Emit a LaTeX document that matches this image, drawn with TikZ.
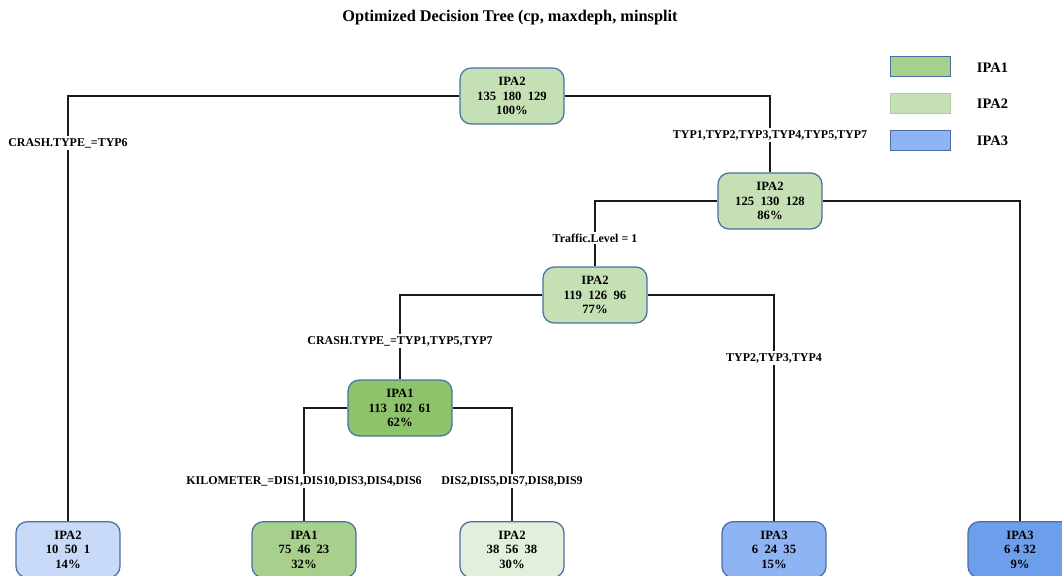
\documentclass[tikz,border=0pt]{standalone}
\usepackage{fontspec}
\setmainfont{Liberation Serif}
\usetikzlibrary{positioning,calc}
\definecolor{tborder}{HTML}{4A6FA5}
\definecolor{tline}{HTML}{1A1A1A}
\definecolor{ipaone}{HTML}{8DC46B}
\definecolor{ipaonel}{HTML}{A8D08D}
\definecolor{ipatwo}{HTML}{C5E0B4}
\definecolor{ipatwop}{HTML}{E2EFDA}
\definecolor{ipatwob}{HTML}{C9DAF8}
\definecolor{ipathree}{HTML}{8EB4F3}
\definecolor{ipathreed}{HTML}{6D9EEB}
\tikzset{
  tnode/.style={draw=tborder,rounded corners=8pt,line width=0.9pt,align=center,
    minimum width=2.6cm,minimum height=1.4cm,font=\fontsize{9}{10.3}\selectfont\bfseries,inner sep=2pt},
  leaf/.style={tnode,minimum width=2.6cm,anchor=north},
  edge/.style={draw=tline,line width=0.9pt},
  cond/.style={fill=white,font=\fontsize{8.5}{10}\selectfont\bfseries,inner sep=1.5pt},
  legbox/.style={minimum width=1.5cm,minimum height=0.5cm,line width=0.7pt},
  leglbl/.style={font=\fontsize{10.3}{12}\selectfont\bfseries,anchor=west},
}
\begin{document}
\begin{tikzpicture}[x=0.025cm,y=-0.025cm]
  \useasboundingbox (0,0) rectangle (1062,575);
  \node[font=\fontsize{11.6}{13}\selectfont\bfseries] (title) at (510,18) {Optimized Decision Tree (cp, maxdeph, minsplit};
  % inner nodes
  \node[tnode,fill=ipatwo] (root) at (512,96) {IPA2\\135~~180~~129\\100\%};
  \node[tnode,fill=ipatwo] (n2) at (770,201) {IPA2\\125~~130~~128\\86\%};
  \node[tnode,fill=ipatwo] (n3) at (595,295) {IPA2\\119~~126~~96\\77\%};
  \node[tnode,fill=ipaone] (n4) at (400,408) {IPA1\\113~~102~~61\\62\%};
  % leaves
  \node[leaf,fill=ipatwob] (l1) at (68,521) {IPA2\\10~~50~~1\\14\%};
  \node[leaf,fill=ipaonel] (l2) at (304,521) {IPA1\\75~~46~~23\\32\%};
  \node[leaf,fill=ipatwop] (l3) at (512,521) {IPA2\\38~~56~~38\\30\%};
  \node[leaf,fill=ipathree] (l4) at (774,521) {IPA3\\6~~24~~35\\15\%};
  \node[leaf,fill=ipathreed] (l5) at (1020,521) {IPA3\\6~4~32\\9\%};
  % splits
  \draw[edge] (root.west) -| (l1.north);
  \draw[edge] (root.east) -| (n2.north);
  \draw[edge] (n2.west) -| (n3.north);
  \draw[edge] (n2.east) -| (l5.north);
  \draw[edge] (n3.west) -| (n4.north);
  \draw[edge] (n3.east) -| (l4.north);
  \draw[edge] (n4.west) -| (l2.north);
  \draw[edge] (n4.east) -| (l3.north);
  \node[cond] (c1) at (l1.north |- 0,143) {CRASH.TYPE\_=TYP6};
  \node[cond] (c2) at (n2.north |- 0,135) {TYP1,TYP2,TYP3,TYP4,TYP5,TYP7};
  \node[cond] (c3) at (n3.north |- 0,238) {Traffic.Level = 1};
  \node[cond] (c4) at (n4.north |- 0,341) {CRASH.TYPE\_=TYP1,TYP5,TYP7};
  \node[cond] (c5) at (l4.north |- 0,358) {TYP2,TYP3,TYP4};
  \node[cond] (c6) at (l2.north |- 0,481) {KILOMETER\_=DIS1,DIS10,DIS3,DIS4,DIS6};
  \node[cond] (c7) at (l3.north |- 0,481) {DIS2,DIS5,DIS7,DIS8,DIS9};
  % legend
  \node[legbox,fill=ipaonel,draw=tborder] (k1) at (920,66) {};
  \node[legbox,fill=ipatwo,draw=ipatwo!90!black] (k2) at (920,103) {};
  \node[legbox,fill=ipathree,draw=tborder] (k3) at (920,140) {};
  \node[leglbl] (t1) at (972,68) {IPA1};
  \node[leglbl] (t2) at (972,104) {IPA2};
  \node[leglbl] (t3) at (972,141) {IPA3};
\end{tikzpicture}
\end{document}
